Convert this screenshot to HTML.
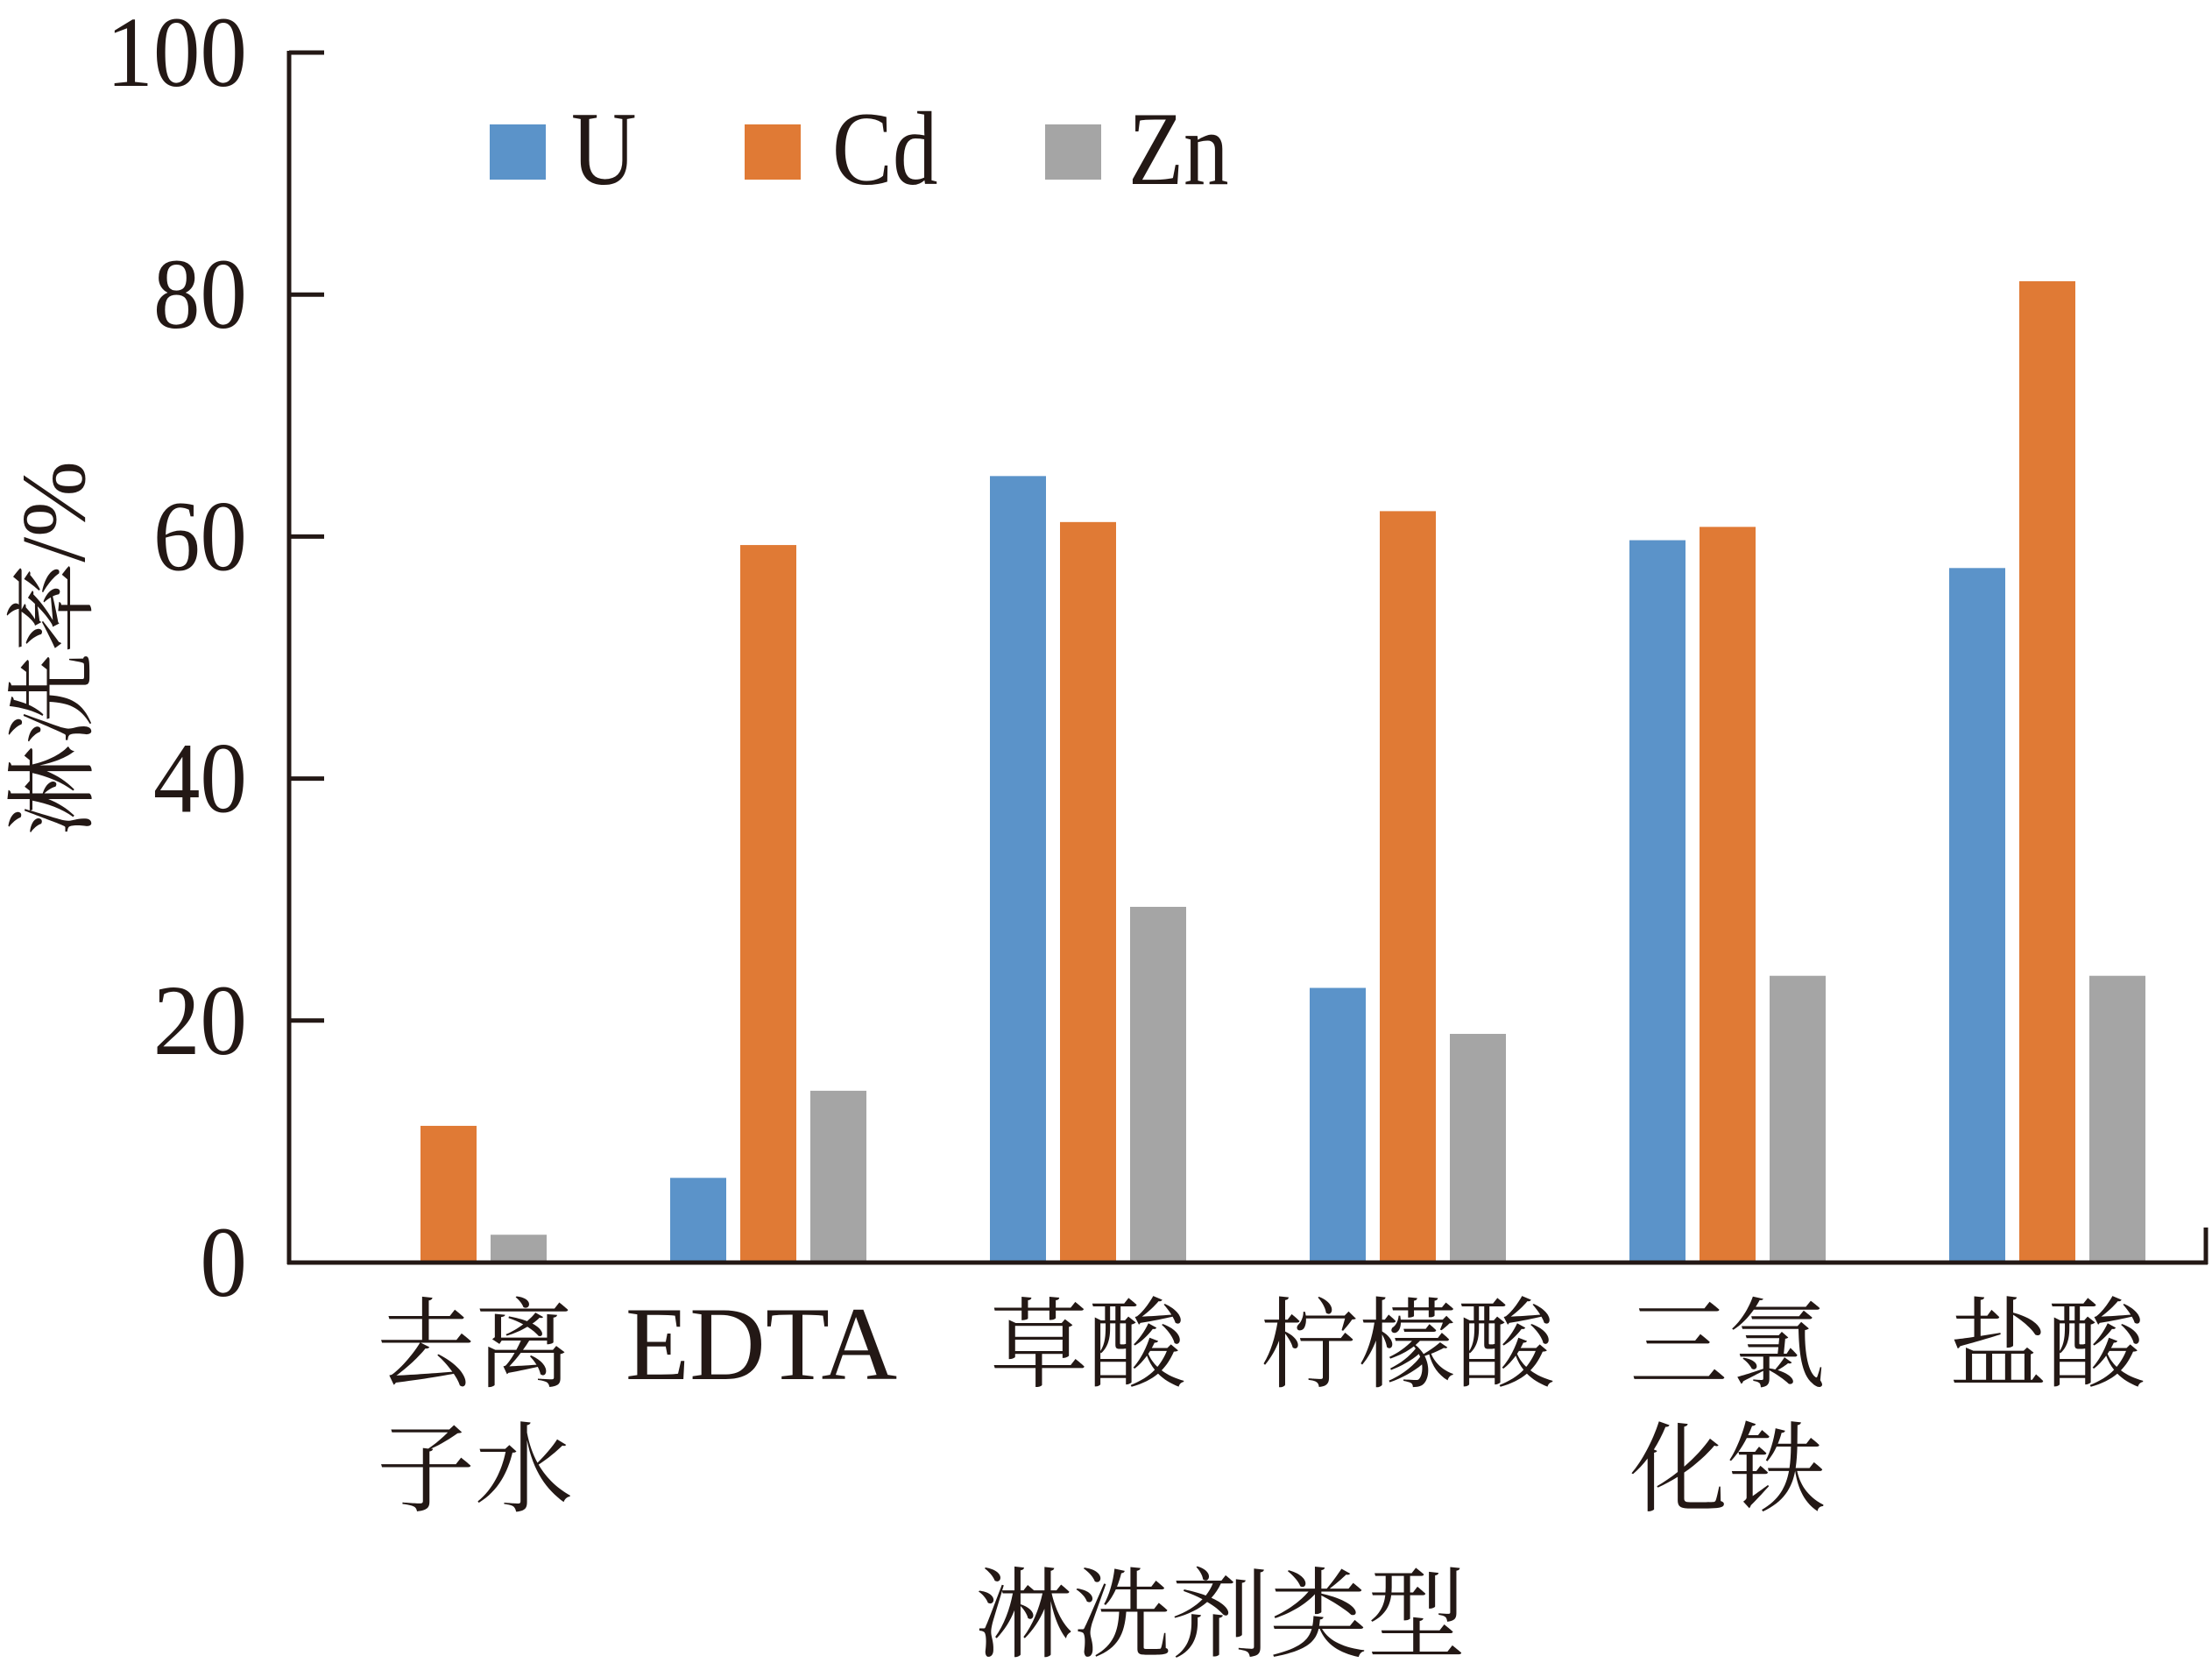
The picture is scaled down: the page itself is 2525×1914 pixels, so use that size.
<!DOCTYPE html>
<html><head><meta charset="utf-8"><style>
html,body{margin:0;padding:0;background:#fff;}
svg{display:block;}
.t{font-family:"Liberation Serif","Noto Serif CJK SC",serif;fill:#231815;}
.c{font-family:"Liberation Serif","Noto Serif CJK SC","Noto Sans CJK SC",serif;fill:#231815;}
</style></head><body>
<svg id="chart" width="2525" height="1914" viewBox="0 0 2525 1914" xmlns="http://www.w3.org/2000/svg">
<g id="bars"></g>
<g id="axes"></g>
<g>
 <rect x="559" y="142" width="64" height="63" fill="#5b93c9"/>
 <text class="t" x="652" y="210" font-size="120" transform="translate(652,0) scale(0.86,1) translate(-652,0)">U</text>
 <rect x="850" y="142" width="64" height="63" fill="#e07a35"/>
 <text class="t" x="950" y="210" font-size="120" transform="translate(950,0) scale(0.86,1) translate(-950,0)">Cd</text>
 <rect x="1193" y="142" width="64" height="63" fill="#a5a5a5"/>
 <text class="t" x="1288" y="210" font-size="120" transform="translate(1288,0) scale(0.86,1) translate(-1288,0)">Zn</text>
</g>
<text class="c" font-size="104" text-anchor="middle" transform="translate(96,740) rotate(-90)">淋洗率/%</text>
<text class="c" font-size="112" text-anchor="middle" x="1393" y="1882">淋洗剂类型</text>
</svg>
<script>
const categories=["去离|子水","EDTA","草酸","柠檬酸","三氯|化铁","盐酸"];
const seriesNames=["U","Cd","Zn"];
const uValues=[0,7.0,65.0,22.7,59.7,57.4];
const cdValues=[11.3,59.3,61.2,62.1,60.8,81.1];
const znValues=[2.3,14.2,29.4,18.9,23.7,23.7];
const yTicks=[0,20,40,60,80,100];
const colors=["#5b93c9","#e07a35","#a5a5a5"];
const NS="http://www.w3.org/2000/svg";
const X0=330,X1=2520,Y0=1441,Y100=60;
function y(v){return Y0-(Y0-Y100)*v/100;}
function groupCenter(i){return 512+i*365;}
const bw=64,step=80;
const bars=document.getElementById('bars');
[uValues,cdValues,znValues].forEach((arr,s)=>{
 arr.forEach((v,i)=>{
  if(v<=0)return;
  const r=document.createElementNS(NS,'rect');
  const cx=groupCenter(i)+(s-1)*step;
  r.setAttribute('x',cx-bw/2);r.setAttribute('y',y(v));
  r.setAttribute('width',bw);r.setAttribute('height',Y0-y(v));
  r.setAttribute('fill',colors[s]);
  
  
  bars.appendChild(r);
 });
});
const ax=document.getElementById('axes');
function line(x1,y1,x2,y2,name){const l=document.createElementNS(NS,'line');
 l.setAttribute('x1',x1);l.setAttribute('y1',y1);l.setAttribute('x2',x2);l.setAttribute('y2',y2);
 l.setAttribute('stroke','#231815');l.setAttribute('stroke-width','5');
 
 
 ax.appendChild(l);}
line(X0,Y100-2,X0,Y0+2,'y-axis-line');
line(X0-2,Y0,X1,Y0,'x-axis-line');
line(X1-2,Y0+2,X1-2,Y0-40,'x-axis-end-tick');
yTicks.forEach(t=>{
 line(X0,y(t),X0+40,y(t),'y-tick');
 const tx=document.createElementNS(NS,'text');
 tx.setAttribute('x',282);tx.setAttribute('y',y(t)+38);
 tx.setAttribute('text-anchor','end');tx.setAttribute('font-size','114');
 tx.setAttribute('class','t');
 tx.setAttribute('transform','translate(282,0) scale(0.94,1) translate(-282,0)');
 tx.textContent=t;
 
 
 ax.appendChild(tx);
});
categories.forEach((c,i)=>{
 const lines=c.split('|');
 lines.forEach((ln,j)=>{
  const tx=document.createElementNS(NS,'text');
  const cx=groupCenter(i)+ (i==0?30:(i==1?-8:0));
  tx.setAttribute('x',cx);tx.setAttribute('y',1574+j*142);
  tx.setAttribute('text-anchor','middle');tx.setAttribute('font-size', ln==='EDTA'?'120':'112');
  tx.setAttribute('class','c');
  tx.textContent=ln;
  
  
  ax.appendChild(tx);
 });
});
</script>
</body></html>
